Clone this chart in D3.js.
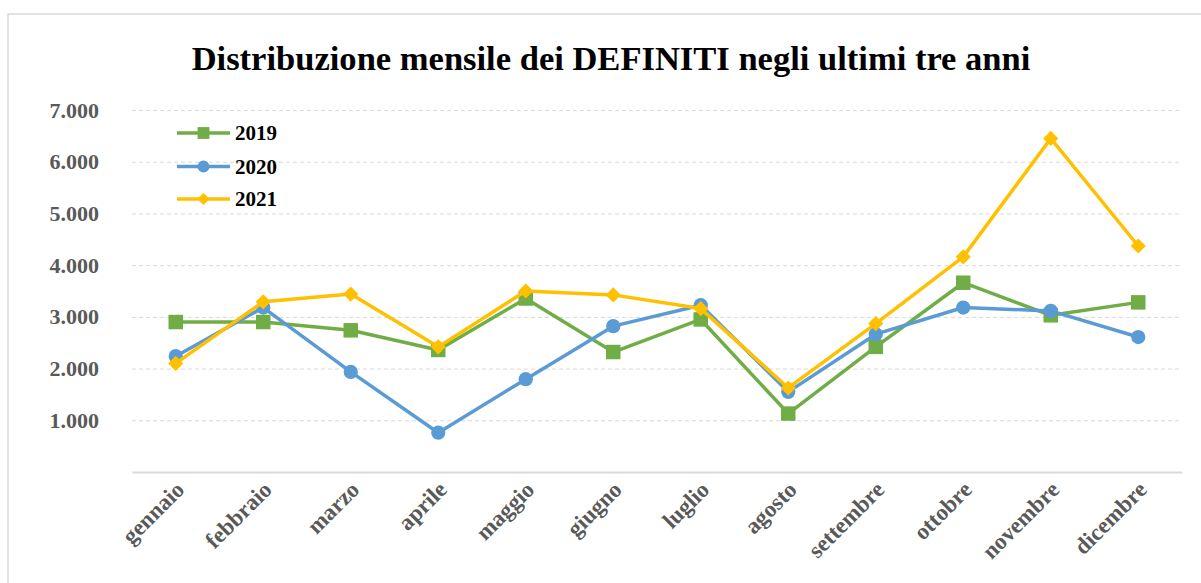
<!DOCTYPE html>
<html>
<head>
<meta charset="utf-8">
<script src="https://cdn.jsdelivr.net/npm/d3@7"></script>
<style>
  body { margin: 0; background: #fff; }
  svg text { font-family: "Palatino Linotype", "Book Antiqua", Palatino, "Liberation Serif", serif; font-weight: bold; }
</style>
</head>
<body>
<div id="chart"></div>
<script>
var months = ["gennaio", "febbraio", "marzo", "aprile", "maggio", "giugno",
              "luglio", "agosto", "settembre", "ottobre", "novembre", "dicembre"]
var years = ["2019", "2020", "2021"]
var v2019 = [2900, 2900, 2740, 2360, 3355, 2320, 2950, 1130, 2420, 3660, 3030, 3280]
var v2020 = [2240, 3180, 1935, 760, 1795, 2820, 3225, 1550, 2665, 3180, 3115, 2610]
var v2021 = [2100, 3290, 3440, 2420, 3500, 3425, 3160, 1625, 2870, 4160, 6450, 4370]
var yTicks = [1000, 2000, 3000, 4000, 5000, 6000, 7000]

var colors = ["#70AD47", "#5B9BD5", "#FFC000"]
var seriesData = [v2019, v2020, v2021]

var W = 1201, H = 583
var margin = {top: 110, right: 19, bottom: 111, left: 132}
var width = W - margin.left - margin.right,
    height = H - margin.top - margin.bottom

var svg = d3.select("#chart").append("svg")
    .attr("width", W)
    .attr("height", H)

// outer frame (cut off at right and bottom like the picture)
svg.append("rect")
    .attr("x", 8).attr("y", 14)
    .attr("width", 1220).attr("height", 620)
    .attr("fill", "#fff")
    .attr("stroke", "#d9d9d9")
    .attr("stroke-width", 1.5)

var title = svg.append("text")
    .attr("x", 611).attr("y", 70)
    .attr("text-anchor", "middle")
    .style("font-size", "32px")
    .attr("fill", "#000")
    .text("Distribuzione mensile dei DEFINITI negli ultimi tre anni")
// fit title width to the picture
var tw = title.node().getComputedTextLength()
title.style("font-size", (32 * 839 / tw) + "px")

var g = svg.append("g")
    .attr("transform", "translate(" + margin.left + "," + margin.top + ")")

var x = d3.scaleBand().domain(months).range([0, width]).padding(0)
var y = d3.scaleLinear().domain([0, 7000]).range([height, 0])

var it = d3.formatLocale({decimal: ",", thousands: ".", grouping: [3], currency: ["", "€"]})
var fmt = it.format(",.0f")

// gridlines + y labels
var yAxis = g.append("g")
    .call(d3.axisLeft(y).tickValues(yTicks).tickFormat(fmt).tickSize(-width).tickPadding(33))
yAxis.select(".domain").remove()
yAxis.selectAll(".tick line")
    .attr("stroke", "#d9d9d9")
    .attr("stroke-dasharray", "4,3")
yAxis.selectAll(".tick text")
    .attr("fill", "#595959")
    .style("font-size", "22px")

// x axis line + labels
var xAxis = g.append("g")
    .attr("transform", "translate(0," + height + ")")
    .call(d3.axisBottom(x).tickSize(0).tickPadding(0))
xAxis.select(".domain")
    .attr("stroke", "#d9d9d9")
    .attr("stroke-width", 2)
xAxis.selectAll(".tick text")
    .attr("fill", "#595959")
    .style("font-size", "23px")
    .attr("text-anchor", "end")
    .attr("dy", 0)
    .attr("transform", "translate(10,19) rotate(-45)")

var cx = function(d, i) { return x(months[i]) + x.bandwidth() / 2 }

var line = d3.line()
    .x(cx)
    .y(function(d) { return y(d) })

// marker: square, circle, diamond (square turned 45 degrees)
function marker(sel, s, big) {
  if (s == 0) {
    sel.attr("d", d3.symbol().type(d3.symbolSquare).size(big ? 210 : 140))
  } else if (s == 1) {
    sel.attr("d", d3.symbol().type(d3.symbolCircle).size(big ? 160 : 113))
  } else {
    sel.attr("d", d3.symbol().type(d3.symbolSquare).size(big ? 115 : 75))
  }
}

seriesData.forEach(function(vals, s) {
  g.append("path")
    .datum(vals)
    .attr("fill", "none")
    .attr("stroke", colors[s])
    .attr("stroke-width", 3.5)
    .attr("stroke-linejoin", "round")
    .attr("d", line)

  g.selectAll(".m" + s)
    .data(vals)
    .enter().append("path")
    .attr("class", "m" + s)
    .attr("transform", function(d, i) {
      return "translate(" + cx(d, i) + "," + y(d) + ")" + (s == 2 ? " rotate(45)" : "")
    })
    .attr("fill", colors[s])
    .call(marker, s, true)
})

// legend
var legend = svg.append("g")
var legY = [133, 166.5, 199]
years.forEach(function(yr, s) {
  var lg = legend.append("g").attr("transform", "translate(177," + legY[s] + ")")
  lg.append("line")
    .attr("x1", 0).attr("x2", 53)
    .attr("stroke", colors[s]).attr("stroke-width", 3.5)
  lg.append("path")
    .attr("transform", "translate(26.5,0)" + (s == 2 ? " rotate(45)" : ""))
    .attr("fill", colors[s])
    .call(marker, s, false)
  lg.append("text")
    .attr("x", 58).attr("y", 7)
    .style("font-size", "21px")
    .attr("fill", "#000")
    .text(yr)
})
</script>
</body>
</html>
